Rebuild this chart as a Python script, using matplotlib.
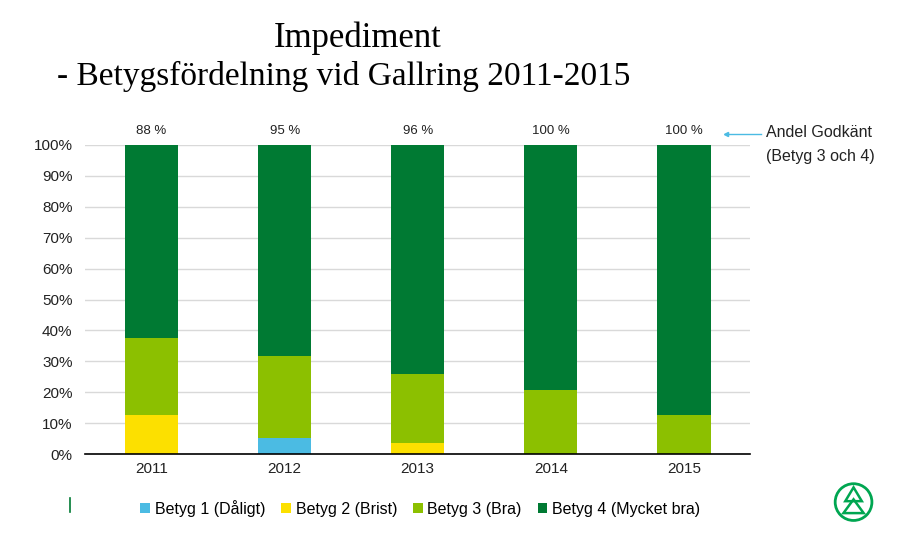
import matplotlib.pyplot as plt
import numpy as np
from matplotlib.patches import Circle, Polygon
from matplotlib.lines import Line2D

plt.rcParams['font.family'] = ['Liberation Sans', 'DejaVu Sans']

years = ["2011", "2012", "2013", "2014", "2015"]
betyg1 = [0.0, 5.3, 0.0, 0.0, 0.0]
betyg2 = [12.5, 0.0, 3.7, 0.0, 0.0]
betyg3 = [25.0, 26.3, 22.2, 20.8, 12.5]
betyg4 = [62.5, 68.4, 74.1, 79.2, 87.5]
godkant = ["88 %", "95 %", "96 %", "100 %", "100 %"]

labels = ["Betyg 1 (Dåligt)", "Betyg 2 (Brist)", "Betyg 3 (Bra)", "Betyg 4 (Mycket bra)"]
colors = ["#4bbbe3", "#fce000", "#8cc000", "#007a33"]

fig = plt.figure(figsize=(8.98, 5.33), dpi=100)
ax = fig.add_axes([0.0947, 0.148, 0.741, 0.58])

x = np.arange(len(years))
bottom = np.zeros(len(years))
for vals, col, lab in zip([betyg1, betyg2, betyg3, betyg4], colors, labels):
    ax.bar(x, vals, 0.4, bottom=bottom, color=col, label=lab)
    bottom += np.array(vals)

for xi, t in zip(x, godkant):
    ax.text(xi, 102.5, t, ha="center", va="bottom", fontsize=9.5, color="#222222")

ax.set_xlim(-0.5, 4.5)
ax.set_ylim(0, 100)
ax.set_yticks(np.arange(0, 101, 10))
ax.set_yticklabels([f"{v}%" for v in range(0, 101, 10)])
ax.set_xticks(x)
ax.set_xticklabels(years)
ax.tick_params(length=0, labelsize=11, colors="#222222")
ax.tick_params(axis="y", pad=9)
ax.tick_params(axis="x", pad=6)
ax.yaxis.grid(True, color="#d9d9d9", linewidth=1)
ax.set_axisbelow(True)
for s in ["left", "right", "top"]:
    ax.spines[s].set_visible(False)
ax.spines["bottom"].set_color("black")
ax.spines["bottom"].set_linewidth(1.2)
ax.spines["bottom"].set_zorder(5)

# annotation
fig.add_artist(Line2D([0.808, 0.847], [0.7485, 0.7485], color="#4bbbe3", lw=1))
fig.add_artist(Line2D([0.808], [0.7485], marker="<", color="#4bbbe3", markersize=3))
fig.text(0.853, 0.752, "Andel Godkänt", fontsize=11.5, va="center", color="#222222")
fig.text(0.853, 0.706, "(Betyg 3 och 4)", fontsize=11.5, va="center", color="#222222")

# title
fig.text(0.398, 0.928, "Impediment", fontsize=25, ha="center", va="center",
         family=["Liberation Serif", "DejaVu Serif"])
fig.text(0.063, 0.857, "- Betygsfördelning vid Gallring 2011-2015", fontsize=24,
         ha="left", va="center", family=["Liberation Serif", "DejaVu Serif"])

# legend
leg = fig.legend(loc="center", bbox_to_anchor=(0.468, 0.046), ncol=4, frameon=False,
                 fontsize=11.5, handlelength=0.6, handleheight=0.6, handletextpad=0.3,
                 columnspacing=1.0)

# small marker line and logo
fig.add_artist(Line2D([0.078, 0.078], [0.04, 0.065], color="#007a33", lw=1.2))
lax = fig.add_axes([0.928, 0.02, 0.045, 0.076])
lax.set_aspect("equal")
lax.axis("off")
lax.set_xlim(-1.1, 1.1)
lax.set_ylim(-1.1, 1.1)
lax.add_patch(Circle((0, 0), 1, fill=False, ec="#00a651", lw=2))
lax.add_patch(Polygon([[-0.45, 0.05], [0, 0.8], [0.45, 0.05]], fill=False, ec="#00a651", lw=1.8))
lax.add_patch(Polygon([[-0.55, -0.6], [0, 0.15], [0.55, -0.6]], fill=False, ec="#00a651", lw=1.8))

fig.savefig("out.png", dpi=100)
